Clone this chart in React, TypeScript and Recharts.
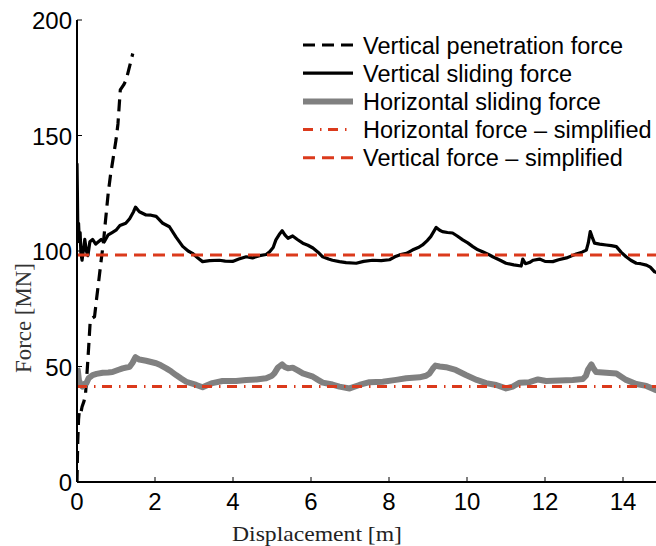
import React from "react";
import { LineChart, Line, XAxis, YAxis, Legend } from "recharts";

// ---------- data ----------
const xTicks = [0, 2, 4, 6, 8, 10, 12, 14];
const yTicks = [0, 50, 100, 150, 200];

const penetrationX = [0, 0.01, 0.02, 0.04, 0.06, 0.1, 0.13, 0.18, 0.22, 0.26, 0.3, 0.34, 0.4, 0.45, 0.5, 0.56, 0.62, 0.68, 0.73, 0.8, 0.86, 0.92, 1.0, 1.05, 1.11, 1.2, 1.26, 1.35, 1.43];
const penetrationForce = [0, 10, 18, 27, 31, 30, 32.6, 35, 38.5, 48, 58.6, 70, 71, 71.6, 79, 87.4, 96, 104, 113, 125, 133, 139.4, 148, 155, 169.7, 172, 174, 180, 185.5];

const verticalX = [0, 0.01, 0.02, 0.04, 0.06, 0.08, 0.1, 0.13, 0.16, 0.2, 0.24, 0.28, 0.33, 0.4, 0.48, 0.55, 0.62, 0.7, 0.8, 0.9, 1.0, 1.1, 1.25, 1.35, 1.45, 1.5, 1.6, 1.77, 1.9, 2.03, 2.2, 2.37, 2.54, 2.71, 2.85, 2.96, 3.1, 3.22, 3.4, 3.65, 3.8, 3.99, 4.15, 4.34, 4.5, 4.68, 4.85, 4.94, 5.03, 5.1, 5.2, 5.26, 5.33, 5.41, 5.53, 5.65, 5.79, 5.92, 6.05, 6.18, 6.3, 6.45, 6.55, 6.73, 6.9, 7.16, 7.35, 7.58, 7.8, 8.01, 8.15, 8.27, 8.45, 8.6, 8.75, 8.86, 8.98, 9.07, 9.15, 9.21, 9.3, 9.37, 9.5, 9.63, 9.75, 9.89, 10.02, 10.15, 10.28, 10.4, 10.55, 10.66, 10.85, 11.0, 11.2, 11.39, 11.43, 11.5, 11.6, 11.7, 11.86, 12.0, 12.2, 12.35, 12.55, 12.7, 12.8, 12.95, 13.06, 13.11, 13.16, 13.21, 13.27, 13.4, 13.57, 13.7, 13.83, 13.95, 14.08, 14.2, 14.34, 14.45, 14.6, 14.7, 14.81, 14.9];
const verticalSliding = [138, 125, 110, 112, 104, 108, 99, 96, 100, 105, 100, 98, 104, 105, 103, 104, 105, 104, 107, 108, 109, 111, 112, 114, 117, 119, 117, 115.6, 115.5, 115, 112, 110.5, 106, 102, 100, 99, 97, 95.4, 95.8, 96, 95.6, 95.5, 96.5, 97.5, 97, 98, 98.5, 99.7, 101.5, 104.8, 107.5, 108.8, 107, 105.5, 106.5, 105, 103.4, 102.5, 101.3, 99.5, 97.5, 96.5, 96, 95.4, 95, 94.7, 95.5, 96, 95.8, 96.2, 97.5, 98.3, 99, 100.4, 101.5, 102.6, 104.5, 106.2, 108.5, 110.2, 109, 108.4, 108, 107.8, 106.5, 104.8, 103.5, 101.9, 100.5, 99.7, 98.5, 97.5, 96, 94.7, 94, 93.5, 96.5, 94.5, 95, 96, 96.5, 95.5, 95.4, 96.2, 97, 98, 98.7, 99.5, 100.4, 103.5, 108.4, 106, 103.4, 103, 102.6, 102.3, 101.9, 99.5, 97.5, 96, 94.7, 94.5, 93.9, 93, 91, 90.5];

const horizontalX = [0, 0.02, 0.05, 0.1, 0.14, 0.2, 0.24, 0.3, 0.4, 0.5, 0.66, 0.8, 0.91, 1.05, 1.17, 1.35, 1.42, 1.5, 1.6, 1.77, 2.03, 2.15, 2.29, 2.42, 2.54, 2.67, 2.8, 3.06, 3.22, 3.35, 3.47, 3.73, 4.08, 4.34, 4.6, 4.85, 5.0, 5.06, 5.15, 5.26, 5.33, 5.41, 5.53, 5.66, 5.79, 6.05, 6.18, 6.3, 6.55, 6.73, 6.99, 7.24, 7.5, 7.84, 8.18, 8.44, 8.78, 8.95, 9.04, 9.12, 9.19, 9.3, 9.46, 9.71, 9.97, 10.25, 10.49, 10.75, 11.0, 11.17, 11.35, 11.6, 11.82, 12.03, 12.37, 12.71, 12.97, 13.05, 13.1, 13.19, 13.25, 13.31, 13.57, 13.83, 14.08, 14.34, 14.6, 14.81, 14.9];
const horizontalSliding = [49, 48.5, 44, 42, 41.3, 42.5, 42.8, 45, 46.3, 46.8, 47.3, 47.4, 47.6, 48.5, 49.2, 49.9, 51.5, 54, 53, 52.5, 51.4, 50.5, 49.2, 47.8, 46.3, 44.8, 43.4, 42, 41, 42, 42.8, 43.7, 43.7, 44.2, 44.4, 44.9, 46, 47, 49.5, 50.9, 49.8, 49.2, 49.5, 48.3, 47, 45.6, 44.2, 43, 42.2, 41.3, 40.5, 42, 43.2, 43.4, 44.2, 44.9, 45.3, 46, 47, 49, 50.4, 50, 49.7, 48.5, 46.3, 44.2, 42.8, 42, 40.5, 41.3, 43, 43.2, 44.4, 43.7, 43.9, 44.2, 44.6, 46, 48.5, 50.9, 49, 47.6, 47.3, 47, 44.2, 42.4, 41.6, 40, 39.5];

const simplifiedX = [0, 15];
const horizontalSimplified = [41.3, 41.3];
const verticalSimplified = [98.3, 98.3];

const legendLabels = [
  "Vertical penetration force",
  "Vertical sliding force",
  "Horizontal sliding force",
  "Horizontal force \u2013 simplified",
  "Vertical force \u2013 simplified",
];

// ---------- helpers ----------
const toPoints = (xs: number[], ys: number[]) => xs.map((x, i) => ({ x, y: ys[i] }));

const RED = "#db3a1c";
const GRAY = "#808080";
const SANS = "'Liberation Sans', Arial, Helvetica, sans-serif";
const SERIF = "'Liberation Serif', 'DejaVu Serif', serif";

const styles = [
  { stroke: "#000", width: 3.2, dash: "12 7" },
  { stroke: "#000", width: 3.2, dash: undefined },
  { stroke: GRAY, width: 6, dash: undefined },
  { stroke: RED, width: 3, dash: "10 7 1.5 6.5" },
  { stroke: RED, width: 3, dash: "12 7" },
];

const XTickBottom = (props: any) => {
  const { x, y, payload } = props;
  return (
    <g>
      <line x1={x} x2={x} y1={y} y2={y - 5} stroke="#000" strokeWidth={1} />
      <text x={x} y={y + 28} textAnchor="middle" fontSize={24} fontFamily={SANS} fill="#000">
        {payload.value}
      </text>
    </g>
  );
};

const XTickTop = (props: any) => {
  const { x, y } = props;
  return <line x1={x} x2={x} y1={y} y2={y + 5} stroke="#000" strokeWidth={1} />;
};

const YTick = (props: any) => {
  const { x, y, payload } = props;
  return (
    <g>
      <line x1={x} x2={x + 5} y1={y} y2={y} stroke="#000" strokeWidth={1} />
      <text x={x - 5} y={y + 9} textAnchor="end" fontSize={24} fontFamily={SANS} fill="#000">
        {payload.value}
      </text>
    </g>
  );
};

const renderLegend = () => (
  <svg width={360} height={150} style={{ display: "block" }}>
    {legendLabels.map((label, i) => {
      const cy = 20 + i * 28.2;
      const s = styles[i];
      return (
        <g key={label}>
          <line x1={8} x2={58} y1={cy} y2={cy} stroke={s.stroke} strokeWidth={s.width} strokeDasharray={s.dash} />
          <text x={68} y={cy + 8.5} fontSize={23.5} fontFamily={SANS} fill="#000">
            {label}
          </text>
        </g>
      );
    })}
  </svg>
);

export default function App() {
  const series = [
    toPoints(penetrationX, penetrationForce),
    toPoints(verticalX, verticalSliding),
    toPoints(horizontalX, horizontalSliding),
    toPoints(simplifiedX, horizontalSimplified),
    toPoints(simplifiedX, verticalSimplified),
  ];
  return (
    <div
      style={{
        position: "absolute",
        left: 0,
        top: 0,
        width: 656,
        height: 546,
        overflow: "hidden",
        background: "#fff",
      }}
    >
      <LineChart width={670} height={546} margin={{ top: 20, right: 8, bottom: 0, left: 0 }}>
        <XAxis
          xAxisId="bottom"
          type="number"
          dataKey="x"
          domain={[0, 15]}
          ticks={xTicks}
          allowDataOverflow
          orientation="bottom"
          height={64}
          tickSize={0}
          tickMargin={0}
          tickLine={false}
          tick={<XTickBottom />}
          axisLine={{ stroke: "#000", strokeWidth: 2 }}
          label={{
            content: () => (
              <text x={317} y={541} textAnchor="middle" fontSize={22} fontFamily={SERIF} fill="#222" textLength={170} lengthAdjust="spacingAndGlyphs">
                Displacement [m]
              </text>
            ),
          }}
        />
        <XAxis
          xAxisId="top"
          type="number"
          dataKey="x"
          domain={[0, 15]}
          ticks={xTicks}
          allowDataOverflow
          orientation="top"
          height={0}
          tickSize={0}
          tickMargin={0}
          tickLine={false}
          tick={<XTickTop />}
          axisLine={{ stroke: "#000", strokeWidth: 2 }}
        />
        <YAxis
          type="number"
          domain={[0, 200]}
          ticks={yTicks}
          allowDataOverflow
          width={77}
          tickSize={0}
          tickMargin={0}
          tickLine={false}
          tick={<YTick />}
          axisLine={{ stroke: "#000", strokeWidth: 2 }}
          label={{
            content: () => (
              <text
                x={31}
                y={318}
                transform="rotate(-90 31 318)"
                textAnchor="middle"
                fontSize={23}
                fontFamily={SERIF}
                fill="#333"
                textLength={110}
                lengthAdjust="spacingAndGlyphs"
              >
                Force [MN]
              </text>
            ),
          }}
        />
        <Legend
          layout="horizontal"
          verticalAlign="middle"
          align="center"
          content={renderLegend}
          wrapperStyle={{ position: "absolute", left: 295, top: 25, width: 360, height: 150 }}
        />
        {series.map((data, i) => (
          <Line
            key={legendLabels[i]}
            xAxisId="bottom"
            data={data}
            dataKey="y"
            name={legendLabels[i]}
            type="linear"
            dot={false}
            activeDot={false}
            stroke={styles[i].stroke}
            strokeWidth={styles[i].width}
            strokeDasharray={styles[i].dash}
            strokeLinejoin="round"
            isAnimationActive={false}
          />
        ))}
      </LineChart>
    </div>
  );
}
